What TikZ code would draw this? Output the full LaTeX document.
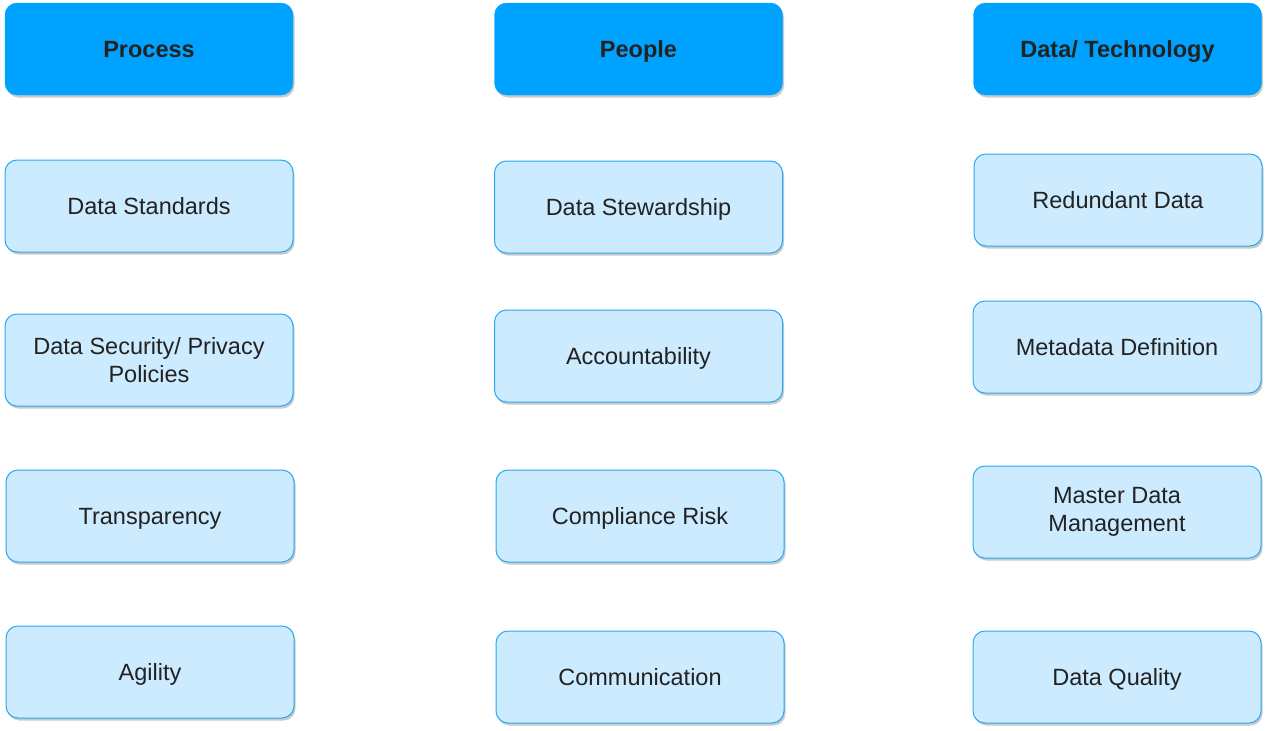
\documentclass[tikz,border=0pt]{standalone}
\usepackage{fontspec}
\setmainfont{Liberation Sans}
\usetikzlibrary{shadows}
\definecolor{hdr}{RGB}{0,162,255}
\definecolor{lite}{RGB}{204,235,255}
\definecolor{edge}{RGB}{40,168,245}
\definecolor{txt}{RGB}{34,34,34}
\tikzset{
  base/.style={rounded corners=12pt, minimum width=288pt, minimum height=92pt, inner sep=0pt,
    align=center, text=txt, font=\fontsize{23.5}{28}\selectfont,
    drop shadow={shadow xshift=1.5pt, shadow yshift=-2.5pt, opacity=0.35, fill=black!60}},
  one/.style={text height=17pt, text depth=0pt},
  head/.style={base, one, fill=hdr, draw=hdr, font=\fontsize{23.5}{28}\selectfont\bfseries},
  item/.style={base, fill=lite, draw=edge, line width=1pt},
}
\begin{document}
\begin{tikzpicture}[x=1pt,y=-1pt]
\useasboundingbox (0,0) rectangle (1267,731);
% headers
\node[head] (h1) at (149,49) {Process};
\node[head] (h2) at (638.5,49) {People};
\node[head] (h3) at (1117.5,49) {Data/ Technology};
% column 1
\node[item, one] (a1) at (149,206) {Data Standards};
\node[item] (a2) at (149,360) {Data Security/ Privacy\\Policies};
\node[item, one] (a3) at (150,516) {Transparency};
\node[item, one] (a4) at (150,672) {Agility};
% column 2
\node[item, one] (b1) at (638.5,207) {Data Stewardship};
\node[item, one] (b2) at (638.5,356) {Accountability};
\node[item, one] (b3) at (640,516) {Compliance Risk};
\node[item, one] (b4) at (640,677) {Communication};
% column 3
\node[item, one] (c1) at (1118,200) {Redundant Data};
\node[item, one] (c2) at (1117,347) {Metadata Definition};
\node[item] (c3) at (1117,512) {Master Data\\Management};
\node[item, one] (c4) at (1117,677) {Data Quality};
\end{tikzpicture}
\end{document}
